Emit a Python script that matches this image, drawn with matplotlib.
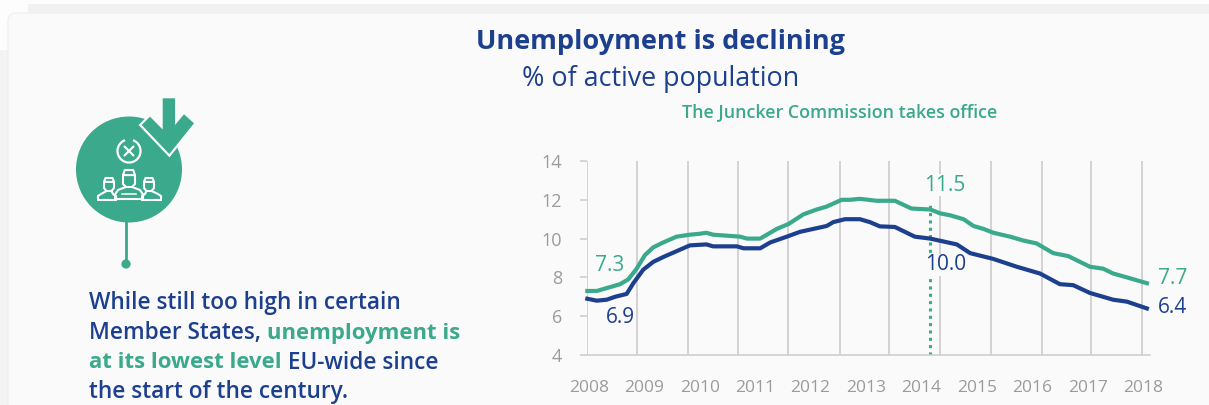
import matplotlib
matplotlib.use("Agg")
import matplotlib.pyplot as plt
from matplotlib.patches import Circle, Polygon, Rectangle, Arc, FancyBboxPatch

GREEN = "#3aa98c"
NAVY = "#1c3f8e"
GREY = "#9b9b9b"
GRID = "#cfcfcf"
BG = "#fafafa"
FONT = "Open Sans"

# Years elapsed since the start of 2008 on the horizontal scale
green_x = [-0.03, 0.14, 0.38, 0.56, 0.71, 0.86, 1.01, 1.16, 1.34, 1.58, 1.82, 2.00, 2.12,
           2.24, 2.49, 2.73, 2.85, 3.09, 3.21, 3.39, 3.60, 3.87, 4.11, 4.29, 4.56, 4.71,
           4.89, 5.19, 5.52, 5.82, 6.16, 6.34, 6.52, 6.76, 6.94, 7.12, 7.30, 7.60, 7.84,
           8.08, 8.38, 8.65, 9.04, 9.28, 9.46, 9.71, 10.07]
green_y = [7.3, 7.3, 7.5, 7.65, 7.9, 8.45, 9.15, 9.55, 9.8, 10.1, 10.2, 10.25, 10.3,
           10.2, 10.15, 10.1, 10.0, 10.0, 10.2, 10.5, 10.75, 11.25, 11.5, 11.65, 12.0, 12.0,
           12.05, 11.95, 11.95, 11.55, 11.5, 11.3, 11.2, 11.0, 10.65, 10.5, 10.3, 10.1, 9.9,
           9.75, 9.25, 9.1, 8.55, 8.45, 8.2, 8.0, 7.7]
blue_x = [-0.03, 0.14, 0.32, 0.47, 0.68, 0.80, 0.98, 1.16, 1.34, 1.58, 1.82, 2.12, 2.24,
          2.67, 2.79, 3.09, 3.27, 3.57, 3.81, 4.05, 4.29, 4.41, 4.62, 4.89, 5.07, 5.25,
          5.52, 5.88, 6.16, 6.40, 6.64, 6.88, 7.30, 7.72, 8.14, 8.50, 8.74, 9.04, 9.46,
          9.71, 10.07]
blue_y = [6.9, 6.8, 6.85, 7.0, 7.15, 7.7, 8.4, 8.8, 9.05, 9.35, 9.65, 9.7, 9.6,
          9.6, 9.5, 9.5, 9.8, 10.1, 10.35, 10.5, 10.65, 10.85, 11.0, 11.0, 10.85, 10.63,
          10.6, 10.1, 10.0, 9.85, 9.7, 9.25, 8.95, 8.55, 8.2, 7.65, 7.6, 7.2, 6.85,
          6.75, 6.4]

year_labels = ["2008", "2009", "2010", "2011", "2012", "2013",
               "2014", "2015", "2016", "2017", "2018"]
year_ticks = list(range(11))
grid_x = [-0.036, 0.87, 1.79, 2.69, 3.59, 4.53, 5.42, 6.34, 7.26, 8.18, 9.06, 9.98]
y_ticks = [4, 6, 8, 10, 12, 14]
office_x = 6.16

W, H = 1209, 405
fig = plt.figure(figsize=(W / 100, H / 100), dpi=100, facecolor="#fdfdfd")
plt.rcParams["font.family"] = [FONT, "DejaVu Sans"]

# Full-figure canvas in pixel units for the panel, icon and text
bg = fig.add_axes([0, 0, 1, 1])
bg.set_xlim(0, W)
bg.set_ylim(H, 0)
bg.axis("off")
bg.add_patch(Rectangle((28, 4), W, 9, fc="#f1f1f1", ec="none"))
bg.add_patch(Rectangle((0, 50), 8, H, fc="#f3f3f3", ec="none"))
bg.add_patch(FancyBboxPatch((14, 19), W, H, boxstyle="round,pad=6,rounding_size=8",
                            fc=BG, ec="#f0f0f0", lw=1))

# Centred headings
bg.text(661, 42, "Unemployment is declining", color=NAVY, fontsize=19.5,
        fontweight="bold", ha="center", va="center")
bg.text(661, 79, "% of active population", color=NAVY, fontsize=19.4,
        ha="center", va="center")
bg.text(840, 112, "The Juncker Commission takes office", color=GREEN, fontsize=12.85,
        fontweight="semibold", ha="center", va="center")

# Icon: disc, stem and down arrow
bg.plot([126, 126], [220, 264], color=GREEN, lw=2, solid_capstyle="butt")
bg.add_patch(Circle((126, 264), 4.6, fc=GREEN, ec="none"))
bg.add_patch(Circle((129, 169.5), 53, fc=GREEN, ec="none"))
arrow = [(162.7, 98.3), (162.7, 129.5), (150, 116.7), (141.7, 125), (169.3, 154),
         (194, 123.3), (184, 114.3), (175, 125), (175, 98.3)]
bg.add_patch(Polygon(arrow, closed=True, fc=BG, ec=BG, lw=3.2, joinstyle="miter"))
bg.add_patch(Polygon(arrow, closed=True, fc=GREEN, ec="none"))

white = dict(color="white", lw=1.5, solid_capstyle="round", solid_joinstyle="round")
bg.add_patch(Arc((129, 151), 23, 23, theta1=-70, theta2=250, color="white", lw=1.6))
bg.plot([124.5, 133.5], [146.5, 155.5], **white)
bg.plot([133.5, 124.5], [146.5, 155.5], **white)


def person(cx, head_top, head_w, head_h, left, right, shoulder, base):
    """Outline figure: capped head above a rounded torso."""
    hw = head_w / 2
    chin = head_top + head_h
    bg.plot([cx - hw, cx - hw, cx - hw * 0.5, cx + hw * 0.5, cx + hw, cx + hw],
            [head_top + head_h * 0.3, chin - 3, chin, chin, chin - 3, head_top + head_h * 0.3], **white)
    bg.plot([cx - hw, cx - hw * 0.7, cx + hw * 0.7, cx + hw, cx - hw],
            [head_top + head_h * 0.3, head_top, head_top, head_top + head_h * 0.3,
             head_top + head_h * 0.3], **white)
    bg.plot([left, left, left + 3, cx - hw * 0.5], [base, base - 4, shoulder + 2, chin], **white)
    bg.plot([right, right, right - 3, cx + hw * 0.5], [base, base - 4, shoulder + 2, chin], **white)
    bg.plot([left, right], [base, base], **white)


person(109, 178, 10, 13, 98, 116, 192, 200)
person(149, 178, 10, 13, 142, 161, 192, 200)
person(129, 170, 12, 17, 115, 143, 188, 198.5)
bg.plot([122, 136], [194, 194], color="white", lw=1.1)

# Paragraph with highlighted words
fig.canvas.draw()
renderer = fig.canvas.get_renderer()


def text_run(x, y, runs):
    for string, colour, weight, size in runs:
        t = bg.text(x, y, string, color=colour, fontweight=weight, fontsize=size,
                    ha="left", va="center")
        x = bg.transData.inverted().transform(
            (t.get_window_extent(renderer).x1, 0))[0]


BODY = (NAVY, "semibold", 16.3)
STRONG = (GREEN, "bold", 15.9)
text_run(89, 303, [("While still too high in certain", *BODY)])
text_run(89, 333, [("Member States, ", *BODY), ("unemployment is", *STRONG)])
text_run(89, 363, [("at its lowest level", *STRONG), (" EU-wide since", *BODY)])
text_run(89, 392, [("the start of the century.", *BODY)])

# Line chart
ax = fig.add_axes([587 / W, 1 - 355 / H, (1150 - 587) / W, (355 - 161) / H])
ax.patch.set_alpha(0)
ax.set_xlim(-0.036, 10.126)
ax.set_ylim(4, 14)
for side in ("top", "right", "left"):
    ax.spines[side].set_visible(False)
ax.spines["bottom"].set_color(GRID)
ax.spines["bottom"].set_linewidth(1.2)

ax.vlines(grid_x, 4, 14, color=GRID, lw=1.3, zorder=1)
ax.set_yticks(y_ticks)
ax.set_xticks(year_ticks)
ax.set_xticklabels(year_labels)
ax.tick_params(axis="x", length=0, pad=18, labelsize=12.5, labelcolor=GREY)
ax.tick_params(axis="y", length=5, width=1.2, color=GRID, pad=13, labelsize=13, labelcolor=GREY)

ax.plot(green_x, green_y, color=GREEN, lw=3, solid_joinstyle="round", zorder=3, clip_on=False)
ax.plot(blue_x, blue_y, color=NAVY, lw=3, solid_joinstyle="round", zorder=4, clip_on=False)
ax.plot([office_x, office_x], [4, 11.85], color=GREEN, lw=2.2, ls=(0, (1, 1.4)), zorder=2)

labels = [(0.38, 8.6, "7.3", GREEN), (0.56, 5.95, "6.9", NAVY),
          (6.43, 12.75, "11.5", GREEN), (6.43, 8.65, "10.0", NAVY),
          (10.53, 7.95, "7.7", GREEN), (10.53, 6.45, "6.4", NAVY)]
for x, y, s, c in labels:
    ax.text(x, y, s, color=c, fontsize=15, ha="center", va="center", clip_on=False,
            bbox=dict(fc=BG, ec="none", pad=0.5) if s in ("11.5", "10.0") else None, zorder=5)

fig.savefig("out.png", dpi=100, facecolor=fig.get_facecolor())
